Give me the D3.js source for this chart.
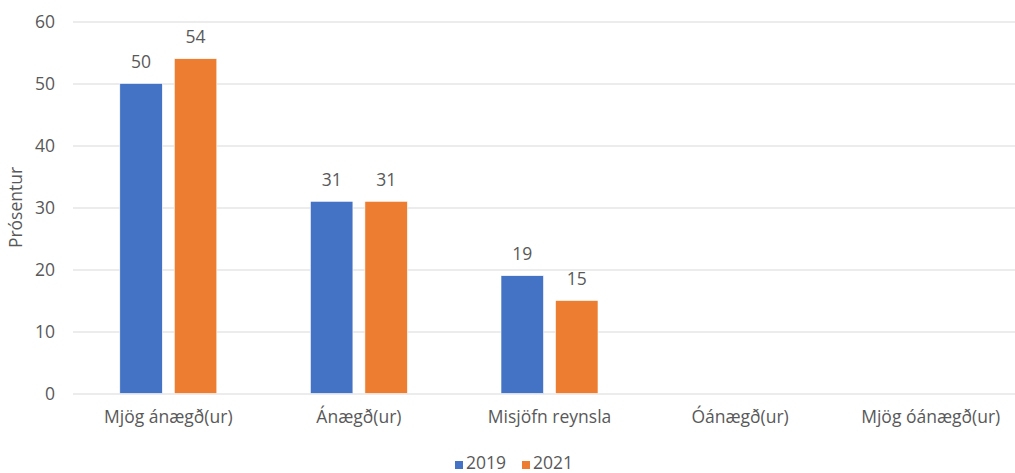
<!DOCTYPE html>
<html>
<head>
<meta charset="utf-8">
<script src="https://cdn.jsdelivr.net/npm/d3@7"></script>
<style>
  html, body { margin: 0; padding: 0; background: #ffffff; }
  svg { display: block; }
  text { font-family: "Open Sans", "Noto Sans", sans-serif; fill: #595959; }
</style>
</head>
<body>
<svg id="chart" width="1015" height="473"></svg>
<script>
const categories = ["Mjög ánægð(ur)", "Ánægð(ur)", "Misjöfn reynsla", "Óánægð(ur)", "Mjög óánægð(ur)"];
const seriesNames = ["2019", "2021"];
const values2019 = [50, 31, 19, null, null];
const values2021 = [54, 31, 15, null, null];
const yTicks = [0, 10, 20, 30, 40, 50, 60];
const yTitle = "Prósentur";
const colors = ["#4472C4", "#ED7D31"];

const svg = d3.select("#chart");
const W = 1015, H = 473;
const plotLeft = 73, plotRight = 1026, plotTop = 21.5, plotBottom = 393.5;
const fontSize = 17.5;

const x0 = d3.scaleBand().domain(categories).range([plotLeft, plotRight]).paddingInner(0).paddingOuter(0);
const groupWidth = 97;
const x1 = d3.scaleBand().domain(seriesNames).range([0, groupWidth]).paddingInner(0.22).paddingOuter(0);
const y = d3.scaleLinear().domain([0, 60]).range([plotBottom, plotTop]);
const color = d3.scaleOrdinal().domain(seriesNames).range(colors);

// Y axis with gridlines
const yAxis = d3.axisLeft(y).tickValues(yTicks).tickSize(-(W - plotLeft)).tickPadding(18);
const yg = svg.append("g").attr("transform", `translate(${plotLeft},0)`).call(yAxis);
yg.select(".domain").remove();
yg.selectAll(".tick line").attr("stroke", "#d9d9d9").attr("stroke-width", 1.2);
yg.selectAll(".tick text").style("font-size", fontSize + "px").attr("fill", "#595959");

// X axis labels
const xAxis = d3.axisBottom(x0).tickSize(0).tickPadding(17);
const xg = svg.append("g").attr("transform", `translate(0,${plotBottom})`).call(xAxis);
xg.select(".domain").remove();
xg.selectAll(".tick text").style("font-size", fontSize + "px").attr("fill", "#595959");

// Data
const data = categories.map((c, i) => ({
  category: c,
  values: [
    { series: seriesNames[0], value: values2019[i] },
    { series: seriesNames[1], value: values2021[i] }
  ]
}));

const groupOffset = (x0.bandwidth() - groupWidth) / 2;
const groups = svg.append("g").selectAll("g").data(data).join("g")
  .attr("transform", d => `translate(${x0(d.category) + groupOffset},0)`);

groups.selectAll("rect").data(d => d.values.filter(v => v.value != null)).join("rect")
  .attr("x", d => x1(d.series))
  .attr("width", x1.bandwidth())
  .attr("y", d => y(d.value))
  .attr("height", d => y(0) - y(d.value))
  .attr("fill", d => color(d.series))
  .attr("stroke", "#ffffff")
  .attr("stroke-width", 0.6);

groups.selectAll("text.lbl").data(d => d.values.filter(v => v.value != null)).join("text")
  .attr("class", "lbl")
  .attr("x", d => x1(d.series) + x1.bandwidth() / 2)
  .attr("y", d => y(d.value) - 15.5)
  .attr("text-anchor", "middle")
  .style("font-size", fontSize + "px")
  .text(d => d.value);

// Y title
svg.append("text")
  .attr("transform", `translate(22,${(plotTop + plotBottom) / 2}) rotate(-90)`)
  .attr("text-anchor", "middle")
  .style("font-size", fontSize + "px")
  .text(yTitle);

// Legend
const legend = svg.append("g").attr("transform", "translate(455,0)");
const legendItems = legend.selectAll("g").data(seriesNames).join("g")
  .attr("transform", (d, i) => `translate(${i * 67},0)`);
legendItems.append("rect")
  .attr("x", 0).attr("y", 461).attr("width", 8).attr("height", 8)
  .attr("fill", d => color(d));
legendItems.append("text")
  .attr("x", 11).attr("y", 469)
  .style("font-size", fontSize + "px")
  .text(d => d);
</script>
</body>
</html>
